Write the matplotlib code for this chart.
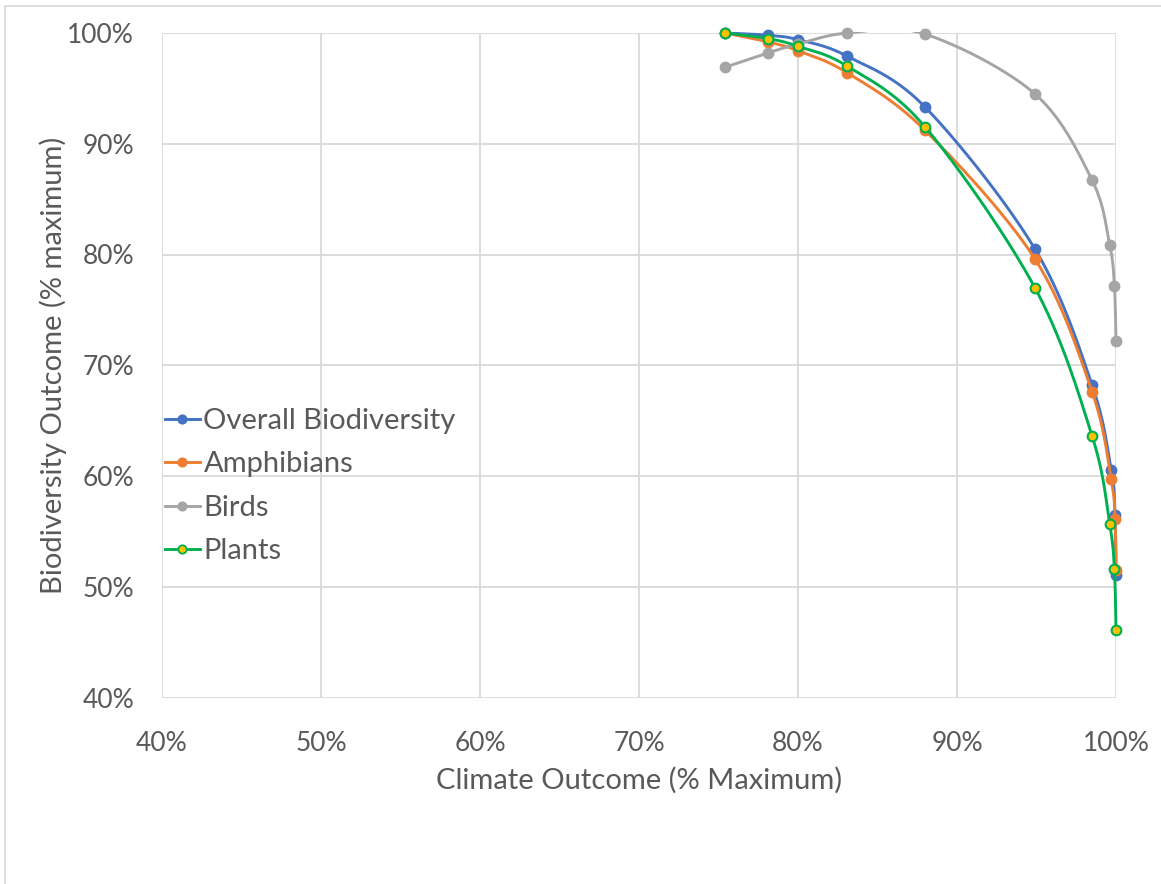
import numpy as np
import matplotlib
matplotlib.use('Agg')
import matplotlib.pyplot as plt
from matplotlib.ticker import FuncFormatter, MultipleLocator
from matplotlib.patches import Rectangle

#values, in percent
series_names = ['Overall Biodiversity', 'Amphibians', 'Birds', 'Plants']
clim_overall = [75.4, 78.1, 80.0, 83.1, 88.0, 94.9, 98.5, 99.7, 99.94, 100.0]
bio_overall = [100.0, 99.8, 99.4, 97.9, 93.3, 80.5, 68.2, 60.5, 56.5, 51.1]
clim_amph = [75.4, 78.1, 80.0, 83.1, 88.0, 94.9, 98.5, 99.7, 99.94, 100.0]
bio_amph = [100.0, 99.2, 98.4, 96.4, 91.2, 79.6, 67.6, 59.7, 56.1, 51.5]
clim_birds = [75.4, 78.1, 80.0, 83.1, 88.0, 94.9, 98.5, 99.6, 99.9, 100.0]
bio_birds = [96.9, 98.2, 99.0, 100.0, 99.9, 94.5, 86.7, 80.9, 77.2, 72.2]
clim_plants = [75.4, 78.1, 80.0, 83.1, 88.0, 94.9, 98.5, 99.6, 99.9, 100.0]
bio_plants = [100.0, 99.5, 98.8, 97.0, 91.5, 77.0, 63.6, 55.7, 51.6, 46.1]

text_col = '#595959'
grid_col = '#D9D9D9'
plt.rcParams['font.family'] = ['Lato', 'DejaVu Sans']

#excel style smoothing: bezier with catmull-rom control points, done in pixel-like space
def smooth(xs, ys, sx, sy, n=40):
    p = np.column_stack([np.asarray(xs)*sx, np.asarray(ys)*sy])
    ext = np.vstack([p[0], p, p[-1]])
    out = []
    for i in range(len(p)-1):
        p0, p1, p2, p3 = ext[i], ext[i+1], ext[i+2], ext[i+3]
        c1 = p1 + (p2-p0)/6
        c2 = p2 - (p3-p1)/6
        t = np.linspace(0, 1, n)[:, None]
        seg = (1-t)**3*p1 + 3*(1-t)**2*t*c1 + 3*(1-t)*t**2*c2 + t**3*p2
        out.append(seg if i == 0 else seg[1:])
    out = np.vstack(out)
    return out[:, 0]/sx, out[:, 1]/sy

fig = plt.figure(figsize=(11.61, 8.84), dpi=100)
fig.patches.append(Rectangle((5/1161, -0.1), 1.2, 1-6/884+0.1, transform=fig.transFigure,
                             fill=False, edgecolor='#D9D9D9', linewidth=1.2))
ax = fig.add_axes([162/1161, 1-697.5/884, (1116-162)/1161, (697.5-33)/884])

#clip curves at the top like excel does, but keep the right edge visible
clip = Rectangle((39, 39), 63, 61.1, transform=ax.transData)

sx, sy = 15.9, 11.1
styles = [
    dict(color='#4472C4', mfc='#4472C4', mec='#4472C4'),
    dict(color='#ED7D31', mfc='#ED7D31', mec='#ED7D31'),
    dict(color='#A5A5A5', mfc='#A5A5A5', mec='#A5A5A5'),
    dict(color='#00B050', mfc='#FFC000', mec='#00B050'),
]
data = [(clim_overall, bio_overall), (clim_amph, bio_amph),
        (clim_birds, bio_birds), (clim_plants, bio_plants)]
for name, (xs, ys), st in zip(series_names, data, styles):
    cx, cy = smooth(xs, ys, sx, sy)
    ln, = ax.plot(cx, cy, color=st['color'], lw=2.1, solid_capstyle='round')
    ln.set_clip_path(clip)
    ax.plot(xs, ys, 'o', ms=7, mfc=st['mfc'], mec=st['mec'], mew=1.5, clip_on=False)
    ax.plot([], [], '-o', color=st['color'], lw=2.1, ms=6, mfc=st['mfc'],
            mec=st['mec'], mew=1.3, label=name)

ax.set_xlim(40, 100)
ax.set_ylim(40, 100)
ax.xaxis.set_major_locator(MultipleLocator(10))
ax.yaxis.set_major_locator(MultipleLocator(10))
pct = FuncFormatter(lambda v, pos: '{:.0f}%'.format(v))
ax.xaxis.set_major_formatter(pct)
ax.yaxis.set_major_formatter(pct)
ax.grid(True, color=grid_col, lw=1.3)
ax.set_axisbelow(True)
for s in ax.spines.values():
    s.set_visible(False)
ax.tick_params(length=0, labelsize=19, labelcolor=text_col)
ax.tick_params(axis='x', pad=24)
ax.tick_params(axis='y', pad=20)
ax.set_xlabel('Climate Outcome (% Maximum)', fontsize=21, color=text_col, labelpad=8)
ax.set_ylabel('Biodiversity Outcome (% maximum)', fontsize=21, color=text_col, labelpad=0)

leg = ax.legend(loc='center left', bbox_to_anchor=(0.0, 0.318), frameon=False,
                fontsize=21, labelcolor=text_col, handlelength=1.2, handletextpad=0.12,
                labelspacing=0.6, borderpad=0.0, borderaxespad=0.1)

fig.savefig('out.png', dpi=100)
